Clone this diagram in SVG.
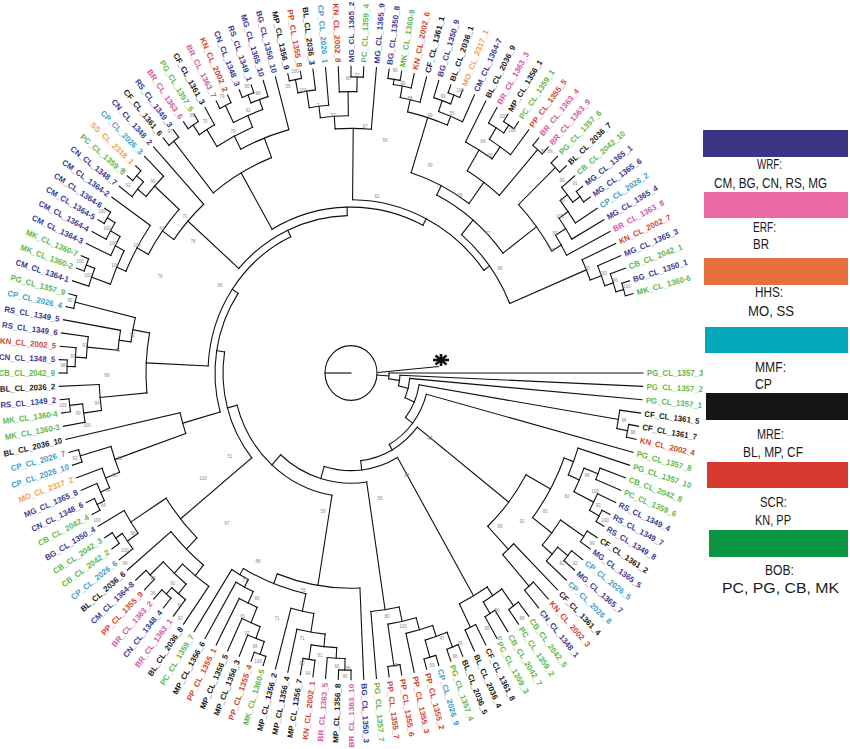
<svg xmlns="http://www.w3.org/2000/svg" width="850" height="749" viewBox="0 0 850 749">
<style>
.t{font-family:"Liberation Sans",Arial,sans-serif;font-size:7.8px;font-weight:bold}
.e{text-anchor:end}
.P{fill:#3d3a90}.K{fill:#1a1a1a}.G{fill:#62b84a}.R{fill:#d2452d}.N{fill:#d35aa3}.O{fill:#f2a25c}.C{fill:#42a0c6}
.lg{font-family:"Liberation Sans",Arial,sans-serif;font-size:14px;fill:#1a1a1a}
.bs{font-family:"Liberation Sans",Arial,sans-serif;font-size:4.5px;fill:#8a8a8a;text-anchor:middle}
</style>
<rect width="850" height="749" fill="#fff"/>
<g id="connectors" fill="none" stroke="#111" stroke-width="1.1" stroke-linecap="square" transform="translate(351 373) scale(1 1.05)">
<circle r="26"/>
<line x1="-26" x2="0"/>
<line x1="26" x2="38" transform="rotate(4.2)"/>
<circle r="38" pathLength="360" stroke-dasharray="8.4 400" transform="rotate(0)"/><line x1="38" x2="292"/><line x1="38" x2="49" transform="rotate(8.4)"/>
<circle r="49" pathLength="360" stroke-dasharray="11.8 400" transform="rotate(2.5)"/><line x1="49" x2="292" transform="rotate(2.5)"/><line x1="49" x2="59" transform="rotate(14.3)"/>
<circle r="59" pathLength="360" stroke-dasharray="18.6 400" transform="rotate(5)"/><line x1="59" x2="292" transform="rotate(5)"/><line x1="59" x2="69" transform="rotate(23.6)"/>
<circle r="69" pathLength="360" stroke-dasharray="28.455 400" transform="rotate(9.375)"/><line x1="69" x2="271" transform="rotate(9.375)"/><line x1="69" x2="78" transform="rotate(37.83)"/>
<circle r="78" pathLength="360" stroke-dasharray="45.66 400" transform="rotate(15)"/><line x1="78" x2="292" transform="rotate(15)"/><line x1="78" x2="84" transform="rotate(60.66)"/>
<circle r="84" pathLength="360" stroke-dasharray="45.45 400" transform="rotate(37.93)"/><line x1="84" x2="200" transform="rotate(37.93)"/><line x1="84" x2="93" transform="rotate(83.38)"/>
<circle r="93" pathLength="360" stroke-dasharray="46.76 400" transform="rotate(60)"/><line x1="93" x2="245" transform="rotate(60)"/><line x1="93" x2="105" transform="rotate(106.76)"/>
<circle r="105" pathLength="360" stroke-dasharray="50.69 400" transform="rotate(81.41)"/><line x1="105" x2="228" transform="rotate(81.41)"/><line x1="105" x2="118" transform="rotate(132.1)"/>
<circle r="118" pathLength="360" stroke-dasharray="65.63 400" transform="rotate(99.29)"/><line x1="118" x2="205" transform="rotate(99.29)"/><line x1="118" x2="128" transform="rotate(164.92)"/>
<circle r="128" pathLength="360" stroke-dasharray="48.2 400" transform="rotate(140.82)"/><line x1="128" x2="220" transform="rotate(140.82)"/><line x1="128" x2="136" transform="rotate(189.02)"/>
<circle r="136" pathLength="360" stroke-dasharray="49.75 400" transform="rotate(164.14)"/><line x1="136" x2="175" transform="rotate(164.14)"/><line x1="136" x2="143" transform="rotate(213.89)"/>
<circle r="143" pathLength="360" stroke-dasharray="62.38 400" transform="rotate(182.7)"/><line x1="143" x2="205" transform="rotate(182.7)"/><line x1="143" x2="150" transform="rotate(245.08)"/>
<circle r="150" pathLength="360" stroke-dasharray="46.99 400" transform="rotate(221.58)"/><line x1="150" x2="218" transform="rotate(221.58)"/><line x1="150" x2="158" transform="rotate(268.57)"/>
<circle r="158" pathLength="360" stroke-dasharray="57.06 400" transform="rotate(240.04)"/><line x1="158" x2="220" transform="rotate(240.04)"/><line x1="158" x2="165" transform="rotate(297.1)"/>
<circle r="165" pathLength="360" stroke-dasharray="53.1 400" transform="rotate(270.55)"/><line x1="165" x2="233" transform="rotate(270.55)"/><line x1="165" x2="172" transform="rotate(323.65)"/>
<circle r="282" pathLength="360" stroke-dasharray="2.5 400" transform="rotate(10)"/><line x1="282" x2="292" transform="rotate(10)"/><line x1="282" x2="292" transform="rotate(12.5)"/>
<circle r="271" pathLength="360" stroke-dasharray="3.75 400" transform="rotate(7.5)"/><line x1="271" x2="292" transform="rotate(7.5)"/><line x1="271" x2="282" transform="rotate(11.25)"/>
<circle r="283" pathLength="360" stroke-dasharray="2.5 400" transform="rotate(27.5)"/><line x1="283" x2="292" transform="rotate(27.5)"/><line x1="283" x2="292" transform="rotate(30)"/>
<circle r="272" pathLength="360" stroke-dasharray="3.75 400" transform="rotate(25)"/><line x1="272" x2="292" transform="rotate(25)"/><line x1="272" x2="283" transform="rotate(28.75)"/>
<circle r="265" pathLength="360" stroke-dasharray="2.5 400" transform="rotate(20)"/><line x1="265" x2="292" transform="rotate(20)"/><line x1="265" x2="292" transform="rotate(22.5)"/>
<circle r="250" pathLength="360" stroke-dasharray="5.625 400" transform="rotate(21.25)"/><line x1="250" x2="265" transform="rotate(21.25)"/><line x1="250" x2="272" transform="rotate(26.875)"/>
<circle r="238" pathLength="360" stroke-dasharray="6.5625 400" transform="rotate(17.5)"/><line x1="238" x2="292" transform="rotate(17.5)"/><line x1="238" x2="250" transform="rotate(24.06)"/>
<circle r="280" pathLength="360" stroke-dasharray="2.5 400" transform="rotate(32.5)"/><line x1="280" x2="292" transform="rotate(32.5)"/><line x1="280" x2="292" transform="rotate(35)"/>
<circle r="278" pathLength="360" stroke-dasharray="2.5 400" transform="rotate(37.5)"/><line x1="278" x2="292" transform="rotate(37.5)"/><line x1="278" x2="292" transform="rotate(40)"/>
<circle r="265" pathLength="360" stroke-dasharray="3.75 400" transform="rotate(38.75)"/><line x1="265" x2="278" transform="rotate(38.75)"/><line x1="265" x2="292" transform="rotate(42.5)"/>
<circle r="252" pathLength="360" stroke-dasharray="6.875 400" transform="rotate(33.75)"/><line x1="252" x2="280" transform="rotate(33.75)"/><line x1="252" x2="265" transform="rotate(40.625)"/>
<circle r="228" pathLength="360" stroke-dasharray="16.41 400" transform="rotate(20.78)"/><line x1="228" x2="238" transform="rotate(20.78)"/><line x1="228" x2="252" transform="rotate(37.19)"/>
<circle r="270" pathLength="360" stroke-dasharray="2.5 400" transform="rotate(47.5)"/><line x1="270" x2="292" transform="rotate(47.5)"/><line x1="270" x2="292" transform="rotate(50)"/>
<circle r="230" pathLength="360" stroke-dasharray="3.75 400" transform="rotate(45)"/><line x1="230" x2="292" transform="rotate(45)"/><line x1="230" x2="270" transform="rotate(48.75)"/>
<circle r="200" pathLength="360" stroke-dasharray="17.89 400" transform="rotate(28.98)"/><line x1="200" x2="228" transform="rotate(28.98)"/><line x1="200" x2="230" transform="rotate(46.875)"/>
<circle r="275" pathLength="360" stroke-dasharray="2.5 400" transform="rotate(52.5)"/><line x1="275" x2="292" transform="rotate(52.5)"/><line x1="275" x2="292" transform="rotate(55)"/>
<circle r="268" pathLength="360" stroke-dasharray="2.5 400" transform="rotate(57.5)"/><line x1="268" x2="292" transform="rotate(57.5)"/><line x1="268" x2="292" transform="rotate(60)"/>
<circle r="255" pathLength="360" stroke-dasharray="5 400" transform="rotate(53.75)"/><line x1="255" x2="275" transform="rotate(53.75)"/><line x1="255" x2="268" transform="rotate(58.75)"/>
<circle r="270" pathLength="360" stroke-dasharray="2.5 400" transform="rotate(62.5)"/><line x1="270" x2="292" transform="rotate(62.5)"/><line x1="270" x2="292" transform="rotate(65)"/>
<circle r="245" pathLength="360" stroke-dasharray="7.5 400" transform="rotate(56.25)"/><line x1="245" x2="255" transform="rotate(56.25)"/><line x1="245" x2="270" transform="rotate(63.75)"/>
<circle r="280" pathLength="360" stroke-dasharray="2.5 400" transform="rotate(67.5)"/><line x1="280" x2="292" transform="rotate(67.5)"/><line x1="280" x2="292" transform="rotate(70)"/>
<circle r="282" pathLength="360" stroke-dasharray="2.5 400" transform="rotate(72.5)"/><line x1="282" x2="292" transform="rotate(72.5)"/><line x1="282" x2="292" transform="rotate(75)"/>
<circle r="265" pathLength="360" stroke-dasharray="5 400" transform="rotate(68.75)"/><line x1="265" x2="280" transform="rotate(68.75)"/><line x1="265" x2="282" transform="rotate(73.75)"/>
<circle r="254" pathLength="360" stroke-dasharray="6.25 400" transform="rotate(71.25)"/><line x1="254" x2="265" transform="rotate(71.25)"/><line x1="254" x2="292" transform="rotate(77.5)"/>
<circle r="282" pathLength="360" stroke-dasharray="2.5 400" transform="rotate(80)"/><line x1="282" x2="292" transform="rotate(80)"/><line x1="282" x2="292" transform="rotate(82.5)"/>
<circle r="242" pathLength="360" stroke-dasharray="6.875 400" transform="rotate(74.375)"/><line x1="242" x2="254" transform="rotate(74.375)"/><line x1="242" x2="282" transform="rotate(81.25)"/>
<circle r="228" pathLength="360" stroke-dasharray="7.19 400" transform="rotate(77.81)"/><line x1="228" x2="242" transform="rotate(77.81)"/><line x1="228" x2="292" transform="rotate(85)"/>
<circle r="283" pathLength="360" stroke-dasharray="2.5 400" transform="rotate(90)"/><line x1="283" x2="292" transform="rotate(90)"/><line x1="283" x2="292" transform="rotate(92.5)"/>
<circle r="272" pathLength="360" stroke-dasharray="3.75 400" transform="rotate(91.25)"/><line x1="272" x2="283" transform="rotate(91.25)"/><line x1="272" x2="292" transform="rotate(95)"/>
<circle r="276" pathLength="360" stroke-dasharray="2.5 400" transform="rotate(97.5)"/><line x1="276" x2="292" transform="rotate(97.5)"/><line x1="276" x2="292" transform="rotate(100)"/>
<circle r="262" pathLength="360" stroke-dasharray="5.625 400" transform="rotate(93.125)"/><line x1="262" x2="272" transform="rotate(93.125)"/><line x1="262" x2="276" transform="rotate(98.75)"/>
<circle r="250" pathLength="360" stroke-dasharray="6.56 400" transform="rotate(95.94)"/><line x1="250" x2="262" transform="rotate(95.94)"/><line x1="250" x2="292" transform="rotate(102.5)"/>
<circle r="232" pathLength="360" stroke-dasharray="5.78 400" transform="rotate(99.22)"/><line x1="232" x2="250" transform="rotate(99.22)"/><line x1="232" x2="292" transform="rotate(105)"/>
<circle r="283" pathLength="360" stroke-dasharray="2.5 400" transform="rotate(107.5)"/><line x1="283" x2="292" transform="rotate(107.5)"/><line x1="283" x2="292" transform="rotate(110)"/>
<circle r="270" pathLength="360" stroke-dasharray="3.75 400" transform="rotate(108.75)"/><line x1="270" x2="283" transform="rotate(108.75)"/><line x1="270" x2="292" transform="rotate(112.5)"/>
<circle r="258" pathLength="360" stroke-dasharray="4.375 400" transform="rotate(110.625)"/><line x1="258" x2="270" transform="rotate(110.625)"/><line x1="258" x2="292" transform="rotate(115)"/>
<circle r="242" pathLength="360" stroke-dasharray="4.69 400" transform="rotate(112.81)"/><line x1="242" x2="258" transform="rotate(112.81)"/><line x1="242" x2="292" transform="rotate(117.5)"/>
<circle r="230" pathLength="360" stroke-dasharray="4.84 400" transform="rotate(115.16)"/><line x1="230" x2="242" transform="rotate(115.16)"/><line x1="230" x2="292" transform="rotate(120)"/>
<circle r="222" pathLength="360" stroke-dasharray="4.92 400" transform="rotate(117.58)"/><line x1="222" x2="230" transform="rotate(117.58)"/><line x1="222" x2="292" transform="rotate(122.5)"/>
<circle r="215" pathLength="360" stroke-dasharray="17.93 400" transform="rotate(102.11)"/><line x1="215" x2="232" transform="rotate(102.11)"/><line x1="215" x2="222" transform="rotate(120.04)"/>
<circle r="205" pathLength="360" stroke-dasharray="23.57 400" transform="rotate(87.5)"/><line x1="205" x2="292" transform="rotate(87.5)"/><line x1="205" x2="215" transform="rotate(111.07)"/>
<circle r="280" pathLength="360" stroke-dasharray="2.5 400" transform="rotate(130)"/><line x1="280" x2="292" transform="rotate(130)"/><line x1="280" x2="292" transform="rotate(132.5)"/>
<circle r="272" pathLength="360" stroke-dasharray="3.75 400" transform="rotate(127.5)"/><line x1="272" x2="292" transform="rotate(127.5)"/><line x1="272" x2="280" transform="rotate(131.25)"/>
<circle r="278" pathLength="360" stroke-dasharray="2.5 400" transform="rotate(135)"/><line x1="278" x2="292" transform="rotate(135)"/><line x1="278" x2="292" transform="rotate(137.5)"/>
<circle r="260" pathLength="360" stroke-dasharray="6.875 400" transform="rotate(129.375)"/><line x1="260" x2="272" transform="rotate(129.375)"/><line x1="260" x2="278" transform="rotate(136.25)"/>
<circle r="248" pathLength="360" stroke-dasharray="7.81 400" transform="rotate(125)"/><line x1="248" x2="292" transform="rotate(125)"/><line x1="248" x2="260" transform="rotate(132.81)"/>
<circle r="235" pathLength="360" stroke-dasharray="11.1 400" transform="rotate(128.9)"/><line x1="235" x2="248" transform="rotate(128.9)"/><line x1="235" x2="292" transform="rotate(140)"/>
<circle r="283" pathLength="360" stroke-dasharray="2.5 400" transform="rotate(145)"/><line x1="283" x2="292" transform="rotate(145)"/><line x1="283" x2="292" transform="rotate(147.5)"/>
<circle r="275" pathLength="360" stroke-dasharray="3.75 400" transform="rotate(142.5)"/><line x1="275" x2="292" transform="rotate(142.5)"/><line x1="275" x2="283" transform="rotate(146.25)"/>
<circle r="262" pathLength="360" stroke-dasharray="5.625 400" transform="rotate(144.375)"/><line x1="262" x2="275" transform="rotate(144.375)"/><line x1="262" x2="292" transform="rotate(150)"/>
<circle r="220" pathLength="360" stroke-dasharray="12.74 400" transform="rotate(134.45)"/><line x1="220" x2="235" transform="rotate(134.45)"/><line x1="220" x2="262" transform="rotate(147.19)"/>
<circle r="283" pathLength="360" stroke-dasharray="2.5 400" transform="rotate(152.5)"/><line x1="283" x2="292" transform="rotate(152.5)"/><line x1="283" x2="292" transform="rotate(155)"/>
<circle r="275" pathLength="360" stroke-dasharray="3.75 400" transform="rotate(153.75)"/><line x1="275" x2="283" transform="rotate(153.75)"/><line x1="275" x2="292" transform="rotate(157.5)"/>
<circle r="265" pathLength="360" stroke-dasharray="4.375 400" transform="rotate(155.625)"/><line x1="265" x2="275" transform="rotate(155.625)"/><line x1="265" x2="292" transform="rotate(160)"/>
<circle r="282" pathLength="360" stroke-dasharray="2.5 400" transform="rotate(162.5)"/><line x1="282" x2="292" transform="rotate(162.5)"/><line x1="282" x2="292" transform="rotate(165)"/>
<circle r="250" pathLength="360" stroke-dasharray="5.94 400" transform="rotate(157.81)"/><line x1="250" x2="265" transform="rotate(157.81)"/><line x1="250" x2="282" transform="rotate(163.75)"/>
<circle r="175" pathLength="360" stroke-dasharray="6.72 400" transform="rotate(160.78)"/><line x1="175" x2="250" transform="rotate(160.78)"/><line x1="175" x2="292" transform="rotate(167.5)"/>
<circle r="283" pathLength="360" stroke-dasharray="2.5 400" transform="rotate(172.5)"/><line x1="283" x2="292" transform="rotate(172.5)"/><line x1="283" x2="292" transform="rotate(175)"/>
<circle r="270" pathLength="360" stroke-dasharray="3.75 400" transform="rotate(170)"/><line x1="270" x2="292" transform="rotate(170)"/><line x1="270" x2="283" transform="rotate(173.75)"/>
<circle r="252" pathLength="360" stroke-dasharray="5.625 400" transform="rotate(171.875)"/><line x1="252" x2="270" transform="rotate(171.875)"/><line x1="252" x2="292" transform="rotate(177.5)"/>
<circle r="284" pathLength="360" stroke-dasharray="2.5 400" transform="rotate(180)"/><line x1="284" x2="292" transform="rotate(180)"/><line x1="284" x2="292" transform="rotate(182.5)"/>
<circle r="276" pathLength="360" stroke-dasharray="3.75 400" transform="rotate(181.25)"/><line x1="276" x2="284" transform="rotate(181.25)"/><line x1="276" x2="292" transform="rotate(185)"/>
<circle r="265" pathLength="360" stroke-dasharray="4.375 400" transform="rotate(183.125)"/><line x1="265" x2="276" transform="rotate(183.125)"/><line x1="265" x2="292" transform="rotate(187.5)"/>
<circle r="234" pathLength="360" stroke-dasharray="4.69 400" transform="rotate(185.31)"/><line x1="234" x2="265" transform="rotate(185.31)"/><line x1="234" x2="292" transform="rotate(190)"/>
<circle r="284" pathLength="360" stroke-dasharray="2.5 400" transform="rotate(192.5)"/><line x1="284" x2="292" transform="rotate(192.5)"/><line x1="284" x2="292" transform="rotate(195)"/>
<circle r="222" pathLength="360" stroke-dasharray="6.09 400" transform="rotate(187.66)"/><line x1="222" x2="234" transform="rotate(187.66)"/><line x1="222" x2="284" transform="rotate(193.75)"/>
<circle r="205" pathLength="360" stroke-dasharray="16.01 400" transform="rotate(174.69)"/><line x1="205" x2="252" transform="rotate(174.69)"/><line x1="205" x2="222" transform="rotate(190.7)"/>
<circle r="284" pathLength="360" stroke-dasharray="2.5 400" transform="rotate(200)"/><line x1="284" x2="292" transform="rotate(200)"/><line x1="284" x2="292" transform="rotate(202.5)"/>
<circle r="275" pathLength="360" stroke-dasharray="3.75 400" transform="rotate(197.5)"/><line x1="275" x2="292" transform="rotate(197.5)"/><line x1="275" x2="284" transform="rotate(201.25)"/>
<circle r="285" pathLength="360" stroke-dasharray="2.5 400" transform="rotate(210)"/><line x1="285" x2="292" transform="rotate(210)"/><line x1="285" x2="292" transform="rotate(212.5)"/>
<circle r="276" pathLength="360" stroke-dasharray="3.75 400" transform="rotate(207.5)"/><line x1="276" x2="292" transform="rotate(207.5)"/><line x1="276" x2="285" transform="rotate(211.25)"/>
<circle r="265" pathLength="360" stroke-dasharray="4.375 400" transform="rotate(205)"/><line x1="265" x2="292" transform="rotate(205)"/><line x1="265" x2="276" transform="rotate(209.375)"/>
<circle r="255" pathLength="360" stroke-dasharray="7.81 400" transform="rotate(199.375)"/><line x1="255" x2="275" transform="rotate(199.375)"/><line x1="255" x2="265" transform="rotate(207.19)"/>
<circle r="245" pathLength="360" stroke-dasharray="11.72 400" transform="rotate(203.28)"/><line x1="245" x2="255" transform="rotate(203.28)"/><line x1="245" x2="292" transform="rotate(215)"/>
<circle r="285" pathLength="360" stroke-dasharray="2.5 400" transform="rotate(220)"/><line x1="285" x2="292" transform="rotate(220)"/><line x1="285" x2="292" transform="rotate(222.5)"/>
<circle r="276" pathLength="360" stroke-dasharray="3.75 400" transform="rotate(217.5)"/><line x1="276" x2="292" transform="rotate(217.5)"/><line x1="276" x2="285" transform="rotate(221.25)"/>
<circle r="265" pathLength="360" stroke-dasharray="5.625 400" transform="rotate(219.375)"/><line x1="265" x2="276" transform="rotate(219.375)"/><line x1="265" x2="292" transform="rotate(225)"/>
<circle r="232" pathLength="360" stroke-dasharray="13.05 400" transform="rotate(209.14)"/><line x1="232" x2="245" transform="rotate(209.14)"/><line x1="232" x2="265" transform="rotate(222.19)"/>
<circle r="218" pathLength="360" stroke-dasharray="11.84 400" transform="rotate(215.66)"/><line x1="218" x2="232" transform="rotate(215.66)"/><line x1="218" x2="292" transform="rotate(227.5)"/>
<circle r="283" pathLength="360" stroke-dasharray="2.5 400" transform="rotate(230)"/><line x1="283" x2="292" transform="rotate(230)"/><line x1="283" x2="292" transform="rotate(232.5)"/>
<circle r="284" pathLength="360" stroke-dasharray="2.5 400" transform="rotate(235)"/><line x1="284" x2="292" transform="rotate(235)"/><line x1="284" x2="292" transform="rotate(237.5)"/>
<circle r="273" pathLength="360" stroke-dasharray="3.75 400" transform="rotate(236.25)"/><line x1="273" x2="284" transform="rotate(236.25)"/><line x1="273" x2="292" transform="rotate(240)"/>
<circle r="284" pathLength="360" stroke-dasharray="2.5 400" transform="rotate(242.5)"/><line x1="284" x2="292" transform="rotate(242.5)"/><line x1="284" x2="292" transform="rotate(245)"/>
<circle r="284" pathLength="360" stroke-dasharray="2.5 400" transform="rotate(247.5)"/><line x1="284" x2="292" transform="rotate(247.5)"/><line x1="284" x2="292" transform="rotate(250)"/>
<circle r="276" pathLength="360" stroke-dasharray="3.75 400" transform="rotate(248.75)"/><line x1="276" x2="284" transform="rotate(248.75)"/><line x1="276" x2="292" transform="rotate(252.5)"/>
<circle r="266" pathLength="360" stroke-dasharray="6.875 400" transform="rotate(243.75)"/><line x1="266" x2="284" transform="rotate(243.75)"/><line x1="266" x2="276" transform="rotate(250.625)"/>
<circle r="254" pathLength="360" stroke-dasharray="9.06 400" transform="rotate(238.125)"/><line x1="254" x2="273" transform="rotate(238.125)"/><line x1="254" x2="266" transform="rotate(247.19)"/>
<circle r="240" pathLength="360" stroke-dasharray="12.34 400" transform="rotate(242.66)"/><line x1="240" x2="254" transform="rotate(242.66)"/><line x1="240" x2="292" transform="rotate(255)"/>
<circle r="220" pathLength="360" stroke-dasharray="17.58 400" transform="rotate(231.25)"/><line x1="220" x2="283" transform="rotate(231.25)"/><line x1="220" x2="240" transform="rotate(248.83)"/>
<circle r="285" pathLength="360" stroke-dasharray="2.5 400" transform="rotate(257.5)"/><line x1="285" x2="292" transform="rotate(257.5)"/><line x1="285" x2="292" transform="rotate(260)"/>
<circle r="272" pathLength="360" stroke-dasharray="3.75 400" transform="rotate(258.75)"/><line x1="272" x2="285" transform="rotate(258.75)"/><line x1="272" x2="292" transform="rotate(262.5)"/>
<circle r="256" pathLength="360" stroke-dasharray="4.375 400" transform="rotate(260.625)"/><line x1="256" x2="272" transform="rotate(260.625)"/><line x1="256" x2="292" transform="rotate(265)"/>
<circle r="282" pathLength="360" stroke-dasharray="2.5 400" transform="rotate(270)"/><line x1="282" x2="292" transform="rotate(270)"/><line x1="282" x2="292" transform="rotate(272.5)"/>
<circle r="268" pathLength="360" stroke-dasharray="3.75 400" transform="rotate(267.5)"/><line x1="268" x2="292" transform="rotate(267.5)"/><line x1="268" x2="282" transform="rotate(271.25)"/>
<circle r="245" pathLength="360" stroke-dasharray="6.56 400" transform="rotate(262.81)"/><line x1="245" x2="256" transform="rotate(262.81)"/><line x1="245" x2="268" transform="rotate(269.375)"/>
<circle r="233" pathLength="360" stroke-dasharray="8.91 400" transform="rotate(266.09)"/><line x1="233" x2="245" transform="rotate(266.09)"/><line x1="233" x2="292" transform="rotate(275)"/>
<circle r="283" pathLength="360" stroke-dasharray="2.5 400" transform="rotate(277.5)"/><line x1="283" x2="292" transform="rotate(277.5)"/><line x1="283" x2="292" transform="rotate(280)"/>
<circle r="278" pathLength="360" stroke-dasharray="3.75 400" transform="rotate(278.75)"/><line x1="278" x2="283" transform="rotate(278.75)"/><line x1="278" x2="292" transform="rotate(282.5)"/>
<circle r="267" pathLength="360" stroke-dasharray="4.375 400" transform="rotate(280.625)"/><line x1="267" x2="278" transform="rotate(280.625)"/><line x1="267" x2="292" transform="rotate(285)"/>
<circle r="284" pathLength="360" stroke-dasharray="2.5 400" transform="rotate(290)"/><line x1="284" x2="292" transform="rotate(290)"/><line x1="284" x2="292" transform="rotate(292.5)"/>
<circle r="275" pathLength="360" stroke-dasharray="3.75 400" transform="rotate(287.5)"/><line x1="275" x2="292" transform="rotate(287.5)"/><line x1="275" x2="284" transform="rotate(291.25)"/>
<circle r="264" pathLength="360" stroke-dasharray="5.625 400" transform="rotate(289.375)"/><line x1="264" x2="275" transform="rotate(289.375)"/><line x1="264" x2="292" transform="rotate(295)"/>
<circle r="255" pathLength="360" stroke-dasharray="9.38 400" transform="rotate(282.81)"/><line x1="255" x2="267" transform="rotate(282.81)"/><line x1="255" x2="264" transform="rotate(292.19)"/>
<circle r="284" pathLength="360" stroke-dasharray="2.5 400" transform="rotate(302.5)"/><line x1="284" x2="292" transform="rotate(302.5)"/><line x1="284" x2="292" transform="rotate(305)"/>
<circle r="275" pathLength="360" stroke-dasharray="3.75 400" transform="rotate(300)"/><line x1="275" x2="292" transform="rotate(300)"/><line x1="275" x2="284" transform="rotate(303.75)"/>
<circle r="262" pathLength="360" stroke-dasharray="5.625 400" transform="rotate(301.875)"/><line x1="262" x2="275" transform="rotate(301.875)"/><line x1="262" x2="292" transform="rotate(307.5)"/>
<circle r="248" pathLength="360" stroke-dasharray="7.19 400" transform="rotate(297.5)"/><line x1="248" x2="292" transform="rotate(297.5)"/><line x1="248" x2="262" transform="rotate(304.69)"/>
<circle r="283" pathLength="360" stroke-dasharray="2.5 400" transform="rotate(310)"/><line x1="283" x2="292" transform="rotate(310)"/><line x1="283" x2="292" transform="rotate(312.5)"/>
<circle r="225" pathLength="360" stroke-dasharray="10.16 400" transform="rotate(301.09)"/><line x1="225" x2="248" transform="rotate(301.09)"/><line x1="225" x2="283" transform="rotate(311.25)"/>
<circle r="200" pathLength="360" stroke-dasharray="18.67 400" transform="rotate(287.5)"/><line x1="200" x2="255" transform="rotate(287.5)"/><line x1="200" x2="225" transform="rotate(306.17)"/>
<circle r="283" pathLength="360" stroke-dasharray="2.5 400" transform="rotate(315)"/><line x1="283" x2="292" transform="rotate(315)"/><line x1="283" x2="292" transform="rotate(317.5)"/>
<circle r="284" pathLength="360" stroke-dasharray="2.5 400" transform="rotate(322.5)"/><line x1="284" x2="292" transform="rotate(322.5)"/><line x1="284" x2="292" transform="rotate(325)"/>
<circle r="275" pathLength="360" stroke-dasharray="3.75 400" transform="rotate(320)"/><line x1="275" x2="292" transform="rotate(320)"/><line x1="275" x2="284" transform="rotate(323.75)"/>
<circle r="266" pathLength="360" stroke-dasharray="5.625 400" transform="rotate(321.875)"/><line x1="266" x2="275" transform="rotate(321.875)"/><line x1="266" x2="292" transform="rotate(327.5)"/>
<circle r="255" pathLength="360" stroke-dasharray="5.31 400" transform="rotate(324.69)"/><line x1="255" x2="266" transform="rotate(324.69)"/><line x1="255" x2="292" transform="rotate(330)"/>
<circle r="243" pathLength="360" stroke-dasharray="5.16 400" transform="rotate(327.34)"/><line x1="243" x2="255" transform="rotate(327.34)"/><line x1="243" x2="292" transform="rotate(332.5)"/>
<circle r="232" pathLength="360" stroke-dasharray="13.67 400" transform="rotate(316.25)"/><line x1="232" x2="283" transform="rotate(316.25)"/><line x1="232" x2="243" transform="rotate(329.92)"/>
<circle r="190" pathLength="360" stroke-dasharray="26.25 400" transform="rotate(296.84)"/><line x1="190" x2="200" transform="rotate(296.84)"/><line x1="190" x2="232" transform="rotate(323.09)"/>
<circle r="284" pathLength="360" stroke-dasharray="2.5 400" transform="rotate(342.5)"/><line x1="284" x2="292" transform="rotate(342.5)"/><line x1="284" x2="292" transform="rotate(345)"/>
<circle r="276" pathLength="360" stroke-dasharray="3.75 400" transform="rotate(340)"/><line x1="276" x2="292" transform="rotate(340)"/><line x1="276" x2="284" transform="rotate(343.75)"/>
<circle r="267" pathLength="360" stroke-dasharray="4.375 400" transform="rotate(337.5)"/><line x1="267" x2="292" transform="rotate(337.5)"/><line x1="267" x2="276" transform="rotate(341.875)"/>
<circle r="255" pathLength="360" stroke-dasharray="4.69 400" transform="rotate(335)"/><line x1="255" x2="292" transform="rotate(335)"/><line x1="255" x2="267" transform="rotate(339.69)"/>
<circle r="172" pathLength="360" stroke-dasharray="27.38 400" transform="rotate(309.96)"/><line x1="172" x2="190" transform="rotate(309.96)"/><line x1="172" x2="255" transform="rotate(337.34)"/>
</g>
<g id="outgroup" stroke="#111" stroke-width="1.1" fill="none">
<line x1="377.5" y1="372.5" x2="439" y2="366.5"/>
<g stroke-width="2.6"><line x1="433" y1="360" x2="449" y2="360"/><line x1="441" y1="354" x2="441" y2="366"/><line x1="435.5" y1="355.5" x2="446.5" y2="364.5"/><line x1="435.5" y1="364.5" x2="446.5" y2="355.5"/></g>
</g>
<g id="support" class="bs">
<text x="123" y="172">99</text><text x="128" y="187">92</text><text x="153" y="183">99</text><text x="170" y="133">97</text><text x="205" y="123">75</text><text x="192" y="117">95</text><text x="222" y="98">79</text><text x="247" y="88">95</text><text x="258" y="95">88</text><text x="248" y="112">92</text><text x="233" y="133">79</text>
<text x="295" y="73">100</text><text x="288" y="88">59</text><text x="303" y="92">100</text><text x="318" y="107">7</text><text x="333" y="117">97</text><text x="365" y="128">97</text><text x="348" y="80">96</text><text x="357" y="77">77</text><text x="385" y="142">59</text><text x="395" y="72">96</text>
<text x="403" y="85">99</text><text x="410" y="100">88</text><text x="430" y="117">99</text><text x="443" y="98">99</text><text x="460" y="92">100</text><text x="452" y="115">55</text><text x="430" y="167">99</text><text x="483" y="143">89</text><text x="503" y="118">100</text><text x="512" y="132">100</text><text x="490" y="157">99</text><text x="543" y="153">88</text>
<text x="550" y="153">89</text><text x="562" y="182">99</text><text x="575" y="185">91</text><text x="562" y="202">70</text><text x="560" y="218">100</text><text x="555" y="235">99</text><text x="552" y="252">96</text><text x="587" y="270">30</text><text x="603" y="275">100</text><text x="615" y="282">96</text><text x="627" y="288">100</text>
<text x="624" y="422">96</text><text x="633" y="434">96</text>
<text x="587" y="477">96</text><text x="595" y="493">100</text><text x="598" y="507">93</text><text x="605" y="522">100</text><text x="592" y="545">99</text><text x="567" y="498">82</text><text x="545" y="513">95</text><text x="575" y="565">92</text><text x="562" y="565">82</text><text x="500" y="528">95</text><text x="522" y="523">92</text>
<text x="497" y="612">96</text><text x="487" y="630">95</text><text x="500" y="640">85</text><text x="522" y="620">88</text><text x="387" y="618">80</text><text x="403" y="628">100</text><text x="442" y="640">47</text><text x="460" y="645">36</text><text x="455" y="658">98</text><text x="432" y="667">59</text><text x="395" y="667">73</text><text x="348" y="670">98</text>
<text x="258" y="563">88</text><text x="245" y="582">77</text><text x="257" y="600">86</text><text x="243" y="618">81</text><text x="247" y="635">97</text><text x="255" y="648">98</text><text x="258" y="663">100</text><text x="303" y="592">76</text><text x="277" y="620">71</text><text x="302" y="640">71</text><text x="320" y="657">81</text><text x="302" y="665">60</text><text x="308" y="675">94</text><text x="337" y="668">60</text><text x="345" y="678">90</text><text x="153" y="580">99</text><text x="153" y="595">36</text><text x="173" y="585">91</text><text x="180" y="607">96</text><text x="180" y="620">90</text>
<text x="63" y="407">100</text><text x="78" y="415">99</text><text x="87" y="427">100</text><text x="97" y="405">94</text><text x="75" y="460">92</text><text x="120" y="460">92</text><text x="115" y="477">91</text><text x="108" y="492">94</text><text x="103" y="507">94</text><text x="97" y="522">100</text><text x="133" y="535">98</text><text x="125" y="552">100</text><text x="125" y="565">99</text>
<text x="102" y="213">100</text><text x="107" y="230">100</text><text x="162" y="230">64</text><text x="113" y="245">100</text><text x="137" y="247">100</text><text x="115" y="267">100</text><text x="80" y="263">100</text><text x="88" y="277">100</text><text x="160" y="278">78</text><text x="185" y="218">71</text><text x="193" y="243">78</text><text x="70" y="302">95</text><text x="132" y="337">76</text><text x="85" y="347">97</text><text x="118" y="352">71</text><text x="73" y="358">87</text><text x="63" y="367">98</text><text x="107" y="377">89</text>
<text x="377" y="198">62</text><text x="220" y="287">56</text><text x="488" y="235">97</text><text x="500" y="270">96</text><text x="460" y="197">76</text><text x="230" y="458">51</text><text x="203" y="480">100</text><text x="430" y="440">95</text><text x="407" y="477">88</text><text x="380" y="500">58</text><text x="323" y="513">59</text><text x="227" y="525">67</text>
</g>
<g id="labels" class="t" transform="translate(351 373) scale(1 1.05)">
<g id="n0"><text class="G" transform="rotate(0)" x="296" y="2.7">PG_CL_1357_3</text></g>
<g id="n1"><text class="G" transform="rotate(2.5)" x="296" y="2.7">PG_CL_1357_2</text></g>
<g id="n2"><text class="G" transform="rotate(5)" x="296" y="2.7">PG_CL_1357_1</text></g>
<g id="n3"><text class="K" transform="rotate(7.5)" x="296" y="2.7">CF_CL_1361_5</text></g>
<g id="n4"><text class="K" transform="rotate(10)" x="296" y="2.7">CF_CL_1361_7</text></g>
<g id="n5"><text class="R" transform="rotate(12.5)" x="296" y="2.7">KN_CL_2002_4</text></g>
<g id="n6"><text class="G" transform="rotate(15)" x="296" y="2.7">PG_CL_1357_8</text></g>
<g id="n7"><text class="G" transform="rotate(17.5)" x="296" y="2.7">PG_CL_1357_10</text></g>
<g id="n8"><text class="G" transform="rotate(20)" x="296" y="2.7">CB_CL_2042_8</text></g>
<g id="n9"><text class="G" transform="rotate(22.5)" x="296" y="2.7">PC_CL_1359_6</text></g>
<g id="n10"><text class="P" transform="rotate(25)" x="296" y="2.7">RS_CL_1349_4</text></g>
<g id="n11"><text class="P" transform="rotate(27.5)" x="296" y="2.7">RS_CL_1349_7</text></g>
<g id="n12"><text class="P" transform="rotate(30)" x="296" y="2.7">RS_CL_1349_8</text></g>
<g id="n13"><text class="K" transform="rotate(32.5)" x="296" y="2.7">CF_CL_1361_2</text></g>
<g id="n14"><text class="P" transform="rotate(35)" x="296" y="2.7">MG_CL_1365_5</text></g>
<g id="n15"><text class="C" transform="rotate(37.5)" x="296" y="2.7">CP_CL_2026_5</text></g>
<g id="n16"><text class="P" transform="rotate(40)" x="296" y="2.7">MG_CL_1365_7</text></g>
<g id="n17"><text class="C" transform="rotate(42.5)" x="296" y="2.7">CP_CL_2026_8</text></g>
<g id="n18"><text class="K" transform="rotate(45)" x="296" y="2.7">CF_CL_1361_4</text></g>
<g id="n19"><text class="R" transform="rotate(47.5)" x="296" y="2.7">KN_CL_2002_3</text></g>
<g id="n20"><text class="P" transform="rotate(50)" x="296" y="2.7">CN_CL_1348_1</text></g>
<g id="n21"><text class="G" transform="rotate(52.5)" x="296" y="2.7">CB_CL_2042_5</text></g>
<g id="n22"><text class="G" transform="rotate(55)" x="296" y="2.7">PC_CL_1359_2</text></g>
<g id="n23"><text class="G" transform="rotate(57.5)" x="296" y="2.7">CB_CL_2042_7</text></g>
<g id="n24"><text class="G" transform="rotate(60)" x="296" y="2.7">PC_CL_1359_3</text></g>
<g id="n25"><text class="K" transform="rotate(62.5)" x="296" y="2.7">CF_CL_1361_8</text></g>
<g id="n26"><text class="K" transform="rotate(65)" x="296" y="2.7">BL_CL_2036_4</text></g>
<g id="n27"><text class="K" transform="rotate(67.5)" x="296" y="2.7">BL_CL_2036_5</text></g>
<g id="n28"><text class="G" transform="rotate(70)" x="296" y="2.7">PG_CL_1357_4</text></g>
<g id="n29"><text class="C" transform="rotate(72.5)" x="296" y="2.7">CP_CL_2026_9</text></g>
<g id="n30"><text class="R" transform="rotate(75)" x="296" y="2.7">PP_CL_1355_2</text></g>
<g id="n31"><text class="R" transform="rotate(77.5)" x="296" y="2.7">PP_CL_1355_3</text></g>
<g id="n32"><text class="R" transform="rotate(80)" x="296" y="2.7">PP_CL_1355_6</text></g>
<g id="n33"><text class="R" transform="rotate(82.5)" x="296" y="2.7">PP_CL_1355_7</text></g>
<g id="n34"><text class="G" transform="rotate(85)" x="296" y="2.7">PG_CL_1357_7</text></g>
<g id="n35"><text class="P" transform="rotate(87.5)" x="296" y="2.7">BG_CL_1350_3</text></g>
<g id="n36"><text class="N e" transform="rotate(-90)" x="-296" y="2.7">BR_CL_1363_10</text></g>
<g id="n37"><text class="K e" transform="rotate(-87.5)" x="-296" y="2.7">MP_CL_1356_8</text></g>
<g id="n38"><text class="N e" transform="rotate(-85)" x="-296" y="2.7">BR_CL_1363_5</text></g>
<g id="n39"><text class="R e" transform="rotate(-82.5)" x="-296" y="2.7">KN_CL_2002_1</text></g>
<g id="n40"><text class="K e" transform="rotate(-80)" x="-296" y="2.7">MP_CL_1356_7</text></g>
<g id="n41"><text class="K e" transform="rotate(-77.5)" x="-296" y="2.7">MP_CL_1356_4</text></g>
<g id="n42"><text class="K e" transform="rotate(-75)" x="-296" y="2.7">MP_CL_1356_2</text></g>
<g id="n43"><text class="G e" transform="rotate(-72.5)" x="-296" y="2.7">MK_CL_1360-5</text></g>
<g id="n44"><text class="R e" transform="rotate(-70)" x="-296" y="2.7">PP_CL_1355_4</text></g>
<g id="n45"><text class="K e" transform="rotate(-67.5)" x="-296" y="2.7">MP_CL_1356_3</text></g>
<g id="n46"><text class="K e" transform="rotate(-65)" x="-296" y="2.7">MP_CL_1356_5</text></g>
<g id="n47"><text class="R e" transform="rotate(-62.5)" x="-296" y="2.7">PP_CL_1355_1</text></g>
<g id="n48"><text class="K e" transform="rotate(-60)" x="-296" y="2.7">MP_CL_1356_6</text></g>
<g id="n49"><text class="G e" transform="rotate(-57.5)" x="-296" y="2.7">PC_CL_1359_7</text></g>
<g id="n50"><text class="K e" transform="rotate(-55)" x="-296" y="2.7">BL_CL_2036_8</text></g>
<g id="n51"><text class="N e" transform="rotate(-52.5)" x="-296" y="2.7">BR_CL_1363_1</text></g>
<g id="n52"><text class="P e" transform="rotate(-50)" x="-296" y="2.7">CN_CL_1348_4</text></g>
<g id="n53"><text class="N e" transform="rotate(-47.5)" x="-296" y="2.7">BR_CL_1363_2</text></g>
<g id="n54"><text class="R e" transform="rotate(-45)" x="-296" y="2.7">PP_CL_1355_9</text></g>
<g id="n55"><text class="P e" transform="rotate(-42.5)" x="-296" y="2.7">CM_CL_1364-8</text></g>
<g id="n56"><text class="K e" transform="rotate(-40)" x="-296" y="2.7">BL_CL_2036_6</text></g>
<g id="n57"><text class="C e" transform="rotate(-37.5)" x="-296" y="2.7">CP_CL_2026_6</text></g>
<g id="n58"><text class="G e" transform="rotate(-35)" x="-296" y="2.7">CB_CL_2042_2</text></g>
<g id="n59"><text class="G e" transform="rotate(-32.5)" x="-296" y="2.7">CB_CL_2042_3</text></g>
<g id="n60"><text class="P e" transform="rotate(-30)" x="-296" y="2.7">BG_CL_1350_4</text></g>
<g id="n61"><text class="G e" transform="rotate(-27.5)" x="-296" y="2.7">CB_CL_2042_4</text></g>
<g id="n62"><text class="P e" transform="rotate(-25)" x="-296" y="2.7">CN_CL_1348_6</text></g>
<g id="n63"><text class="P e" transform="rotate(-22.5)" x="-296" y="2.7">MG_CL_1365_8</text></g>
<g id="n64"><text class="O e" transform="rotate(-20)" x="-296" y="2.7">MO_CL_2317_2</text></g>
<g id="n65"><text class="C e" transform="rotate(-17.5)" x="-296" y="2.7">CP_CL_2026_10</text></g>
<g id="n66"><text class="C e" transform="rotate(-15)" x="-296" y="2.7">CP_CL_2026_7</text></g>
<g id="n67"><text class="K e" transform="rotate(-12.5)" x="-296" y="2.7">BL_CL_2036_10</text></g>
<g id="n68"><text class="G e" transform="rotate(-10)" x="-296" y="2.7">MK_CL_1360-3</text></g>
<g id="n69"><text class="G e" transform="rotate(-7.5)" x="-296" y="2.7">MK_CL_1360-4</text></g>
<g id="n70"><text class="P e" transform="rotate(-5)" x="-296" y="2.7">RS_CL_1349_2</text></g>
<g id="n71"><text class="K e" transform="rotate(-2.5)" x="-296" y="2.7">BL_CL_2036_2</text></g>
<g id="n72"><text class="G e" transform="rotate(0)" x="-296" y="2.7">CB_CL_2042_9</text></g>
<g id="n73"><text class="P e" transform="rotate(2.5)" x="-296" y="2.7">CN_CL_1348_5</text></g>
<g id="n74"><text class="R e" transform="rotate(5)" x="-296" y="2.7">KN_CL_2002_5</text></g>
<g id="n75"><text class="P e" transform="rotate(7.5)" x="-296" y="2.7">RS_CL_1349_6</text></g>
<g id="n76"><text class="P e" transform="rotate(10)" x="-296" y="2.7">RS_CL_1349_5</text></g>
<g id="n77"><text class="C e" transform="rotate(12.5)" x="-296" y="2.7">CP_CL_2026_4</text></g>
<g id="n78"><text class="G e" transform="rotate(15)" x="-296" y="2.7">PG_CL_1357_9</text></g>
<g id="n79"><text class="P e" transform="rotate(17.5)" x="-296" y="2.7">CM_CL_1364-1</text></g>
<g id="n80"><text class="G e" transform="rotate(20)" x="-296" y="2.7">MK_CL_1360-2</text></g>
<g id="n81"><text class="G e" transform="rotate(22.5)" x="-296" y="2.7">MK_CL_1360-7</text></g>
<g id="n82"><text class="P e" transform="rotate(25)" x="-296" y="2.7">CM_CL_1364-3</text></g>
<g id="n83"><text class="P e" transform="rotate(27.5)" x="-296" y="2.7">CM_CL_1364-4</text></g>
<g id="n84"><text class="P e" transform="rotate(30)" x="-296" y="2.7">CM_CL_1364-5</text></g>
<g id="n85"><text class="P e" transform="rotate(32.5)" x="-296" y="2.7">CM_CL_1364-6</text></g>
<g id="n86"><text class="P e" transform="rotate(35)" x="-296" y="2.7">CM_CL_1364-2</text></g>
<g id="n87"><text class="P e" transform="rotate(37.5)" x="-296" y="2.7">CN_CL_1348_7</text></g>
<g id="n88"><text class="G e" transform="rotate(40)" x="-296" y="2.7">PC_CL_1359_5</text></g>
<g id="n89"><text class="O e" transform="rotate(42.5)" x="-296" y="2.7">SS_CL_2318_1</text></g>
<g id="n90"><text class="C e" transform="rotate(45)" x="-296" y="2.7">CP_CL_2026_3</text></g>
<g id="n91"><text class="P e" transform="rotate(47.5)" x="-296" y="2.7">CN_CL_1348_2</text></g>
<g id="n92"><text class="K e" transform="rotate(50)" x="-296" y="2.7">CF_CL_1361_6</text></g>
<g id="n93"><text class="P e" transform="rotate(52.5)" x="-296" y="2.7">RS_CL_1349_3</text></g>
<g id="n94"><text class="N e" transform="rotate(55)" x="-296" y="2.7">BR_CL_1363_6</text></g>
<g id="n95"><text class="G e" transform="rotate(57.5)" x="-296" y="2.7">PG_CL_1357_5</text></g>
<g id="n96"><text class="K e" transform="rotate(60)" x="-296" y="2.7">CF_CL_1361_3</text></g>
<g id="n97"><text class="N e" transform="rotate(62.5)" x="-296" y="2.7">BR_CL_1363_7</text></g>
<g id="n98"><text class="R e" transform="rotate(65)" x="-296" y="2.7">KN_CL_2002_2</text></g>
<g id="n99"><text class="P e" transform="rotate(67.5)" x="-296" y="2.7">CN_CL_1348_3</text></g>
<g id="n100"><text class="P e" transform="rotate(70)" x="-296" y="2.7">RS_CL_1349_1</text></g>
<g id="n101"><text class="P e" transform="rotate(72.5)" x="-296" y="2.7">MG_CL_1365_10</text></g>
<g id="n102"><text class="P e" transform="rotate(75)" x="-296" y="2.7">BG_CL_1350_10</text></g>
<g id="n103"><text class="K e" transform="rotate(77.5)" x="-296" y="2.7">MP_CL_1356_9</text></g>
<g id="n104"><text class="R e" transform="rotate(80)" x="-296" y="2.7">PP_CL_1355_8</text></g>
<g id="n105"><text class="K e" transform="rotate(82.5)" x="-296" y="2.7">BL_CL_2036_3</text></g>
<g id="n106"><text class="C e" transform="rotate(85)" x="-296" y="2.7">CP_CL_2026_1</text></g>
<g id="n107"><text class="R e" transform="rotate(87.5)" x="-296" y="2.7">KN_CL_2002_8</text></g>
<g id="n108"><text class="P" transform="rotate(270)" x="296" y="2.7">MG_CL_1365_2</text></g>
<g id="n109"><text class="G" transform="rotate(272.5)" x="296" y="2.7">PC_CL_1359_4</text></g>
<g id="n110"><text class="P" transform="rotate(275)" x="296" y="2.7">MG_CL_1365_9</text></g>
<g id="n111"><text class="P" transform="rotate(277.5)" x="296" y="2.7">BG_CL_1350_8</text></g>
<g id="n112"><text class="G" transform="rotate(280)" x="296" y="2.7">MK_CL_1360-9</text></g>
<g id="n113"><text class="R" transform="rotate(282.5)" x="296" y="2.7">KN_CL_2002_6</text></g>
<g id="n114"><text class="K" transform="rotate(285)" x="296" y="2.7">CF_CL_1361_1</text></g>
<g id="n115"><text class="P" transform="rotate(287.5)" x="296" y="2.7">BG_CL_1350_9</text></g>
<g id="n116"><text class="K" transform="rotate(290)" x="296" y="2.7">BL_CL_2036_1</text></g>
<g id="n117"><text class="O" transform="rotate(292.5)" x="296" y="2.7">MO_CL_2317_1</text></g>
<g id="n118"><text class="P" transform="rotate(295)" x="296" y="2.7">CM_CL_1364-7</text></g>
<g id="n119"><text class="K" transform="rotate(297.5)" x="296" y="2.7">BL_CL_2036_9</text></g>
<g id="n120"><text class="N" transform="rotate(300)" x="296" y="2.7">BR_CL_1363_3</text></g>
<g id="n121"><text class="K" transform="rotate(302.5)" x="296" y="2.7">MP_CL_1356_1</text></g>
<g id="n122"><text class="G" transform="rotate(305)" x="296" y="2.7">PC_CL_1359_1</text></g>
<g id="n123"><text class="R" transform="rotate(307.5)" x="296" y="2.7">PP_CL_1355_5</text></g>
<g id="n124"><text class="N" transform="rotate(310)" x="296" y="2.7">BR_CL_1363_4</text></g>
<g id="n125"><text class="N" transform="rotate(312.5)" x="296" y="2.7">BR_CL_1363_9</text></g>
<g id="n126"><text class="G" transform="rotate(315)" x="296" y="2.7">PG_CL_1357_6</text></g>
<g id="n127"><text class="K" transform="rotate(317.5)" x="296" y="2.7">BL_CL_2036_7</text></g>
<g id="n128"><text class="G" transform="rotate(320)" x="296" y="2.7">CB_CL_2042_10</text></g>
<g id="n129"><text class="P" transform="rotate(322.5)" x="296" y="2.7">MG_CL_1365_1</text></g>
<g id="n130"><text class="P" transform="rotate(325)" x="296" y="2.7">MG_CL_1365_6</text></g>
<g id="n131"><text class="C" transform="rotate(327.5)" x="296" y="2.7">CP_CL_2026_2</text></g>
<g id="n132"><text class="P" transform="rotate(330)" x="296" y="2.7">MG_CL_1365_4</text></g>
<g id="n133"><text class="N" transform="rotate(332.5)" x="296" y="2.7">BR_CL_1363_8</text></g>
<g id="n134"><text class="R" transform="rotate(335)" x="296" y="2.7">KN_CL_2002_7</text></g>
<g id="n135"><text class="P" transform="rotate(337.5)" x="296" y="2.7">MG_CL_1365_3</text></g>
<g id="n136"><text class="G" transform="rotate(340)" x="296" y="2.7">CB_CL_2042_1</text></g>
<g id="n137"><text class="P" transform="rotate(342.5)" x="296" y="2.7">BG_CL_1350_1</text></g>
<g id="n138"><text class="G" transform="rotate(345)" x="296" y="2.7">MK_CL_1360-6</text></g>
</g>
<g id="legend">
<g id="lg-wrf"><rect x="703" y="130" width="145" height="27" fill="#3d3584"/><text class="lg" x="757" y="169" textLength="25" lengthAdjust="spacingAndGlyphs">WRF:</text><text class="lg" x="714" y="188" textLength="113" lengthAdjust="spacingAndGlyphs">CM, BG, CN, RS, MG</text></g>
<g id="lg-erf"><rect x="704" y="192" width="144" height="26" fill="#ea69a3"/><text class="lg" x="753" y="232" textLength="23" lengthAdjust="spacingAndGlyphs">ERF:</text><text class="lg" x="753" y="249" textLength="16" lengthAdjust="spacingAndGlyphs">BR</text></g>
<g id="lg-hhs"><rect x="704" y="258" width="144" height="27" fill="#e5703b"/><text class="lg" x="755" y="297" textLength="28" lengthAdjust="spacingAndGlyphs">HHS:</text><text class="lg" x="748" y="316" textLength="46" lengthAdjust="spacingAndGlyphs">MO, SS</text></g>
<g id="lg-mmf"><rect x="705" y="327" width="143" height="26" fill="#04a6b9"/><text class="lg" x="755" y="372" textLength="31" lengthAdjust="spacingAndGlyphs">MMF:</text><text class="lg" x="755" y="389" textLength="17" lengthAdjust="spacingAndGlyphs">CP</text></g>
<g id="lg-mre"><rect x="706" y="393" width="142" height="27" fill="#151515"/><text class="lg" x="757" y="439" textLength="27" lengthAdjust="spacingAndGlyphs">MRE:</text><text class="lg" x="743" y="457" textLength="60" lengthAdjust="spacingAndGlyphs">BL, MP, CF</text></g>
<g id="lg-scr"><rect x="707" y="462" width="141" height="26" fill="#d83a30"/><text class="lg" x="760" y="507" textLength="27" lengthAdjust="spacingAndGlyphs">SCR:</text><text class="lg" x="755" y="525" textLength="36" lengthAdjust="spacingAndGlyphs">KN, PP</text></g>
<g id="lg-bob"><rect x="709" y="530" width="139" height="27" fill="#0b9646"/><text class="lg" x="765" y="575" textLength="29" lengthAdjust="spacingAndGlyphs">BOB:</text><text class="lg" x="722" y="593" textLength="117" lengthAdjust="spacingAndGlyphs">PC, PG, CB, MK</text></g>
</g>
</svg>
